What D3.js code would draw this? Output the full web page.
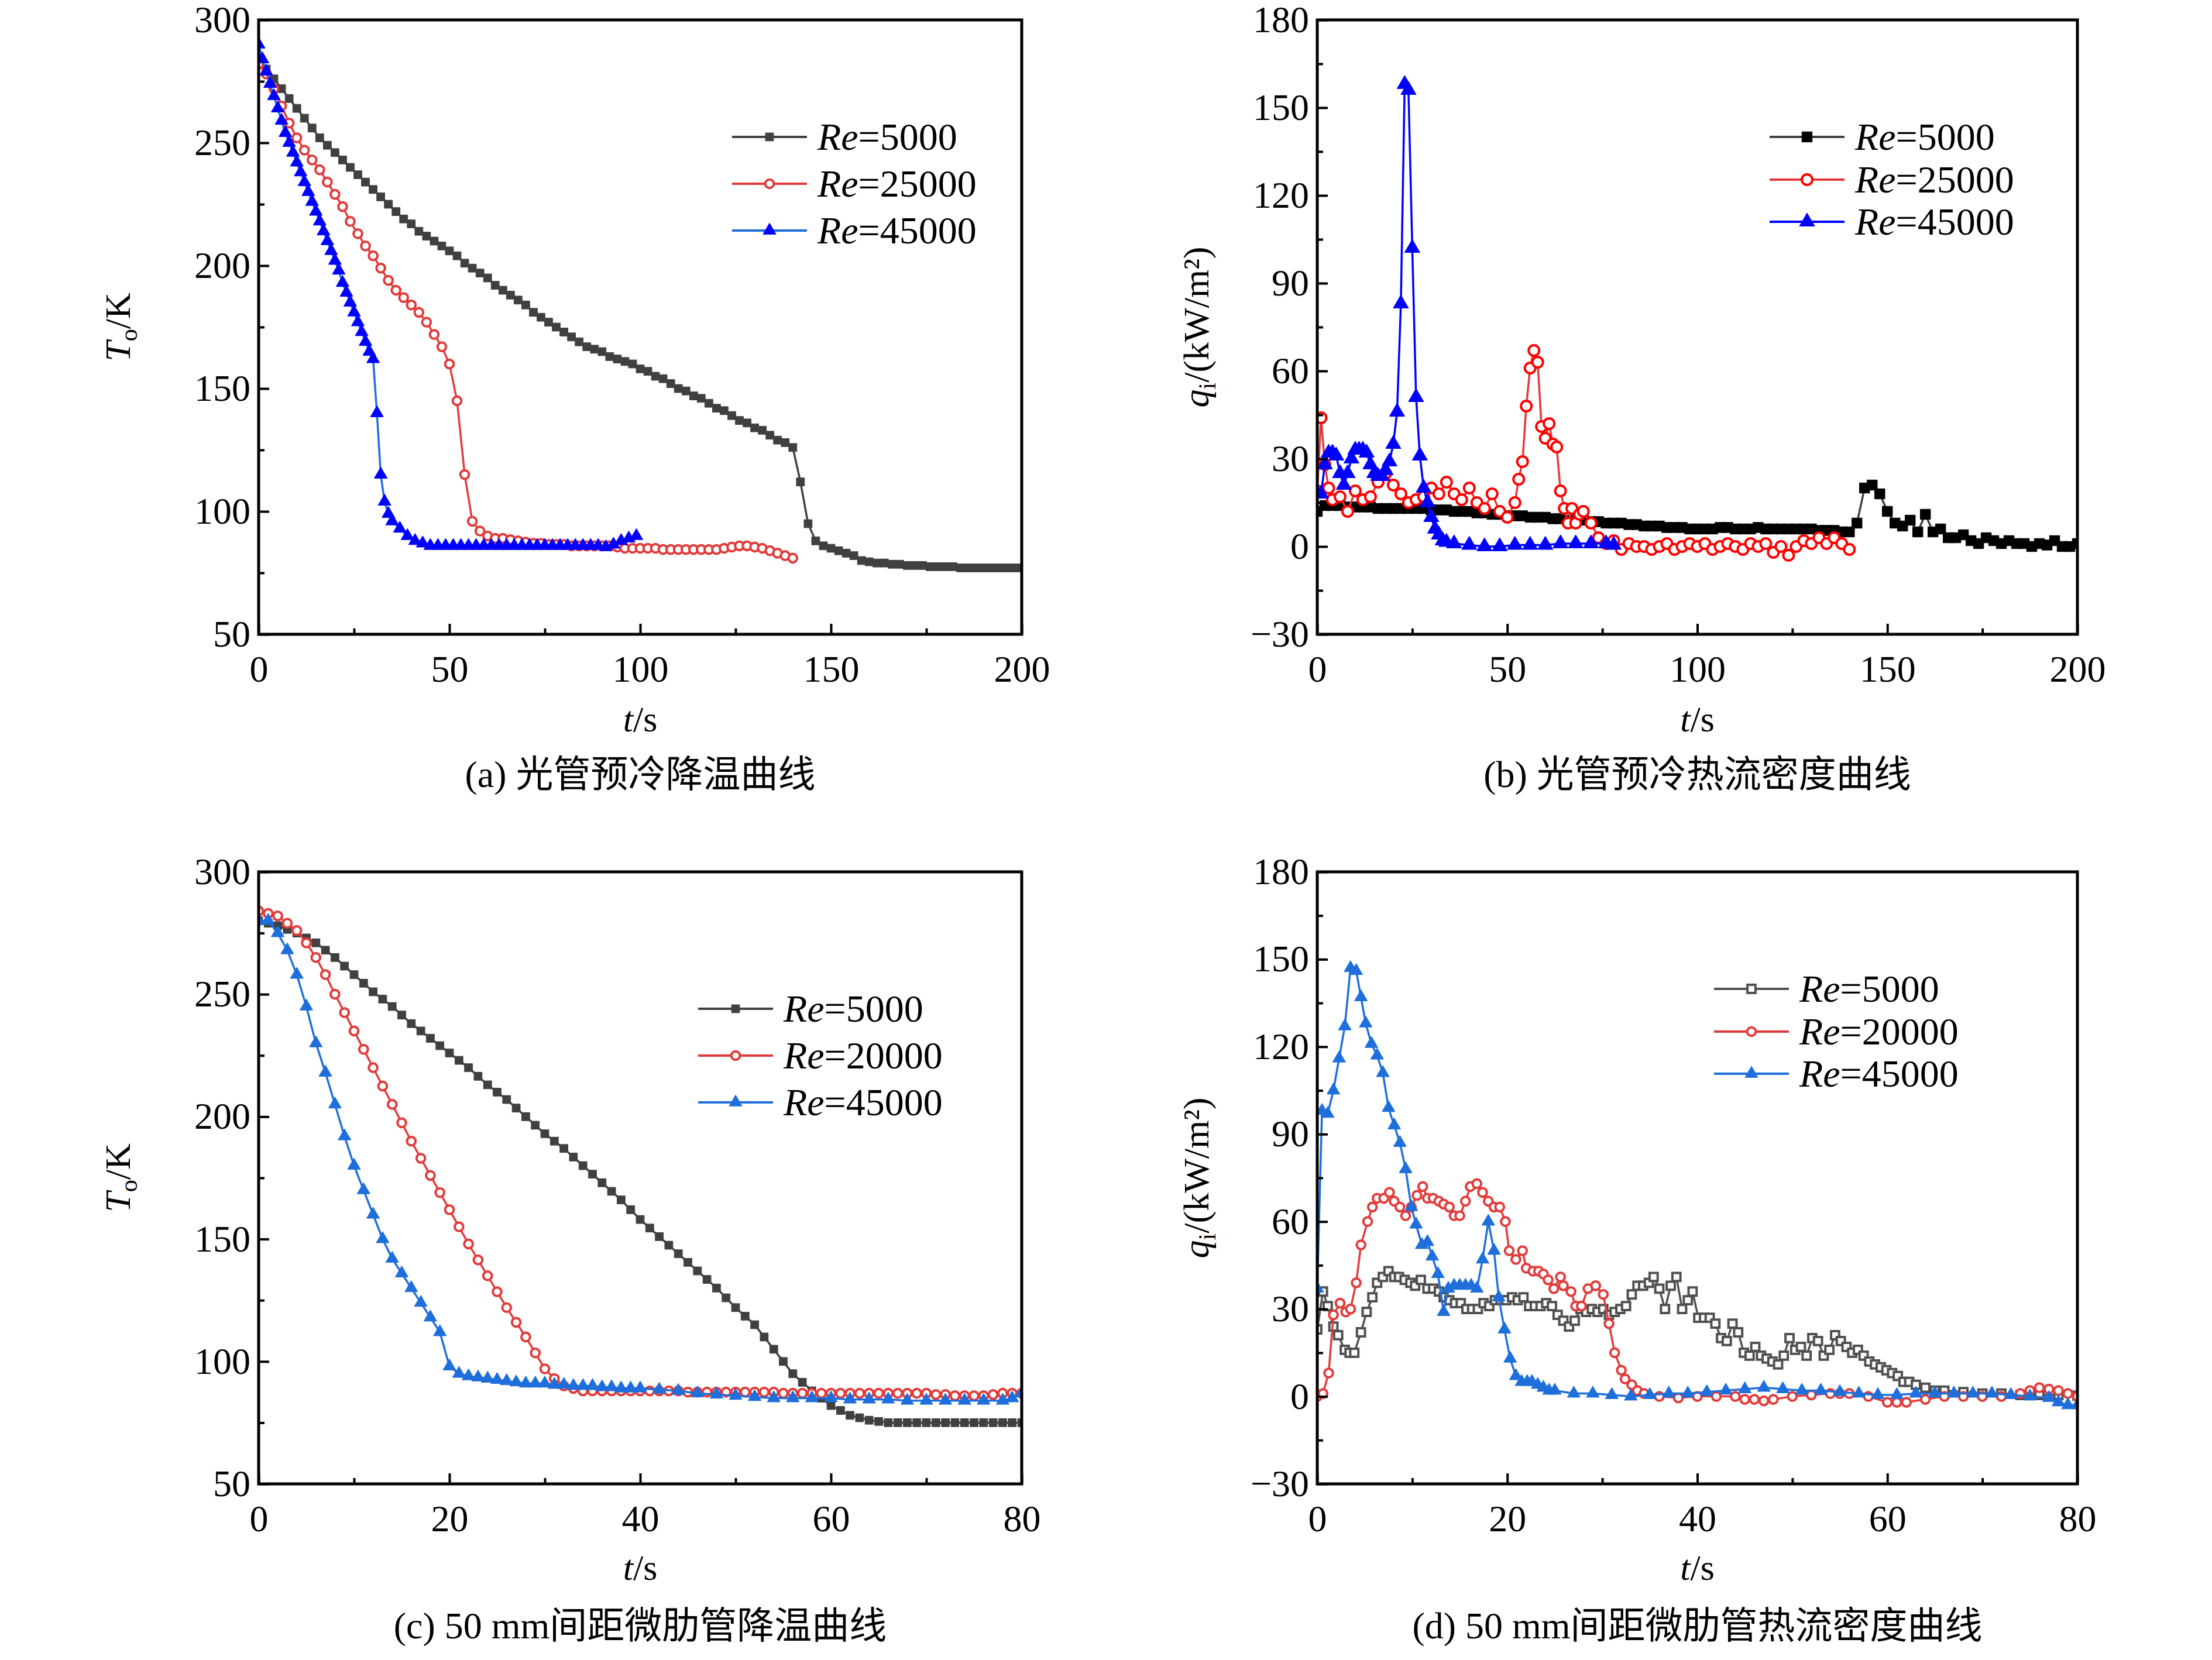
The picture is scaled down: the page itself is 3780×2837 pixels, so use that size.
<!DOCTYPE html>
<html><head><meta charset="utf-8">
<script src="https://cdn.jsdelivr.net/npm/d3@7"></script>
<style>
body{margin:0;background:#fff}
svg text{font-family:"Liberation Serif","Noto Sans CJK SC",serif}
</style></head>
<body><svg id="chart" width="3780" height="2837" font-family="Liberation Serif, Noto Sans CJK SC, serif"></svg>
<script>
// ---- data: (a) plain tube temperature, step 2 s unless noted
var aT5000 = [285,280,276,272,268,264,260,256,252,249,246,243,240,237,234,231,228,225,222,219,217,214,212,210,208,206,204,201,199,197,195,192,190,188,186,184,181,179,177,175,173,171,169,167,166,165,163,162,161,160,158,157,155,154,152,150,149,147,146,144,142,141,139,137,136,134,133,131,129,128,126,112,95,88,86,85,84,83,82,80,79.5,79,79,78.5,78.5,78,78,78,77.5,77.5,77.5,77.5,77,77,77,77,77,77,77,77,77];
var aT25000 = [282,278,272,265,258,252,247,243,239,234,229,224,218,213,208,204,199,194,190,187,184,181,177,172,167,160,145,115,96,92,90,89,89,88.5,88,87.5,87,87,86.5,86.5,86.5,86,86,86,86,86,86,85.5,85,85,85,85,85,84.5,84.5,84.5,84.5,84.5,84.5,84.5,84.5,85,85.5,86,86,85.5,85,84,83,82,81];
var aT45000_t = [0,1,2,3,4,5,6,7,8,9,10,11,12,13,14,15,16,17,18,19,20,21,22,23,24,25,26,27,28,29,30,31,32,33,34,35,37,39,41,43,45,47,49,51,53,55,57,59,61,63,65,67,69,71,73,75,77,79,81,83,85,87,89,91,93,95,97,99];
var aT45000 = [290,284,279,274,269,264,259,254,250,246,242,238,234,230,226,222,218,214,210,206,202,198,193,189,185,181,177,173,169,165,162,140,115,104,99,96,93,90,88,87,86,86,86,86,86,86,86,86,86,86,86,86,86,86,86,86,86,86,86,86,86,86,86,85.5,86.5,88,89,90];

// ---- (b) plain tube heat flux
var bQ5000 = [12,14,14,14,13.5,13.5,13.5,13.5,13,13,13,13,13,13,13,12.5,12.5,12.5,12,12,12,11.5,11.5,11,11,10.5,10.5,10.5,10,10,10,9.5,9.5,9,9,9,8.5,8.5,8,8,8,7.5,7.5,7,7,7,6.5,6.5,6.5,6,6,6,6,6.5,6.5,6,6,6,6.5,6,6,6,6,6,6,6,5.5,5.5,5.5,5,5,8,20,21,18,12,8,7,9,5,11,5,6,3,3,4,2,1,3,2,1,2,1,1,0,1,0.5,2,0,0,1];
var bQ25000_t = [0,1,2,3,4,6,8,10,12,14,16,18,20,22,24,26,28,30,32,34,36,38,40,42,44,46,48,50,52,53,54,55,56,57,58,59,60,61,62,63,64,65,66,67,68,69,70,72,74,76,78,80,82,84,86,88,90,92,94,96,98,100,102,104,106,108,110,112,114,116,118,120,122,124,126,128,130,132,134,136,138,140];
var bQ25000 = [19,44,28,20,16,17,12,19,16,17,22,25,21,18,15,16,17,20,18,22,18,16,20,15,13,18,12,10,15,23,29,48,61,67,63,41,37,42,35,34,19,13,8,13,8,11,12,8,3,1,2,-1,1,0,0,-1,0,1,-1,0,1,0,1,-1,0,1,0,-1,1,0,1,-2,0,-3,0,2,1,3,1,3,1,-1];
var bQ45000_t = [0,1,2,3,4,5,6,7,8,9,10,11,12,13,14,15,16,17,18,19,20,21,22,23,24,25,26,27,28,29,30,31,32,33,34,36,40,44,48,52,56,60,64,68,72,76,78];
var bQ45000 = [18,18,28,32,32,31,25,21,25,30,33,33,33,32,28,25,24,24,26,29,35,46,83,158,156,102,51,31,20,15,10,6,4,2,1.5,1,0.5,0,0,0.5,0.5,0.5,1,1,1,1,0.5];

// ---- (c) ribbed tube temperature, step 1 s
var cT5000 = [280,279,278,276.5,275,273,271,268,265,261.5,258,254.5,251,248,245,241.5,238,235,232,229,226,223,220,216.5,213,210,207,203.5,200,196.5,193,190,187,183.5,180,176.5,173,169.5,166,162,158,154.5,151,147.5,144,140.5,137,133.5,130,126,122,118.5,115,110,105,100,95,91.5,88,85,82,80,78,77,76,75.5,75,75,75,75,75,75,75,75,75,75,75,75,75,75,75];
var cT20000 = [284,283,282,279,276,271,265,258,250,242.5,235,227.5,220,212.5,205,197.5,190,183,176,169,162,155,148,141.5,135,128.5,122,116,110,103.5,97,93,90,89,88,88,88,88,88,88,88,88,88,88,88,87.5,87.5,87.5,87.5,87.5,87.5,87.5,87.5,87.5,87.5,87,87,87,87,87,87,87,87,87,87,87,87,87,87,87,87,86.5,86.5,86,86,86,86,86.5,87,87,87];
var cT45000_t = [0,1,2,3,4,5,6,7,8,9,10,11,12,13,14,15,16,17,18,19,20,21,22,23,24,25,26,27,28,29,30,31,32,33,34,35,36,37,38,39,40,42,44,46,48,50,52,54,56,58,60,62,64,66,68,70,72,74,76,78,79,80];
var cT45000 = [280,280,275,268,258,245,230,218,205,192,180,170,160,150,142,136,130,124,118,112,98,95,94,93.5,93,92.5,92,91.5,91,91,91,90.5,90.5,90,90,90,89.5,89.5,89,89,89,88.5,88,87,86.5,86,85.5,85,85,85,85,84.5,84.5,84.5,84,84,84,84,84,84,85,87];

// ---- (d) ribbed tube heat flux
var dQ5000_t = [0,0.6,1.1,1.7,2.2,2.9,3.4,3.9,4.6,5.2,5.8,6.3,6.9,7.5,8.1,8.6,9.2,9.8,10.3,10.9,11.6,12.2,12.8,13.3,13.9,14.5,15.1,15.7,16.3,16.9,17.5,18.1,18.7,19.3,19.9,20.5,21.1,21.7,22.3,22.9,23.5,24.1,24.7,25.3,25.9,26.5,27.1,27.7,28.3,28.9,29.5,30.1,30.7,31.3,31.9,32.5,33.1,33.7,34.3,34.9,35.4,36,36.6,37.2,37.8,38.4,39,39.5,40.1,40.7,41.3,41.9,42.5,43.1,43.7,44.3,44.9,45.5,46.1,46.7,47.3,47.9,48.5,49.1,49.7,50.3,50.9,51.5,52.1,52.7,53.3,53.9,54.5,55.1,55.7,56.3,56.9,57.5,58.1,58.7,59.3,59.9,60.5,61.1,61.7,62.3,63,64,65,66,68,70,72,74,76,78,80];
var dQ5000 = [23,36,31,24,21,16,15,15,22,29,34,39,41,43,41,41,40,39,38,40,37,37,36,34,33,32,32,30,30,30,32,31,33,33,33,34,33,34,31,31,31,32,31,28,26,24,26,30,29,30,29,30,28,29,30,31,35,38,38,39,41,37,30,38,41,30,33,36,27,27,27,25,20,19,25,22,15,14,17,14,13,12,11,14,20,16,17,14,20,19,14,16,21,19,17,15,16,14,12,11,10,9,8,7,5,5,4,3,2,2,1.5,1,1,0.5,0.5,0.5,0.3,0];
var dQ20000_t = [0,0.6,1.2,1.7,2.4,3,3.5,4.1,4.6,5.3,5.8,6.3,7,7.6,8.1,8.7,9.3,9.9,10.5,11.1,11.6,12.2,12.8,13.3,13.9,14.4,15,15.6,16.1,16.8,17.4,18,18.6,19.2,19.8,20.2,20.9,21.6,22,22.7,23.3,23.8,24.3,24.9,25.6,25.9,26.7,27.2,27.8,28.5,29.3,30.1,30.7,31.3,32,32.4,33.1,33.7,34.4,36,38,40,42,44,45,46,47,48,50,52,54,55,56,58,60,61,62,64,66,68,70,72,74,75,76,77,78,79,80];
var dQ20000 = [0,1,8,28,32,29,30,39,52,60,65,68,68,70,67,65,62,65,69,72,68,68,67,66,65,62,62,67,72,73,70,67,65,65,60,50,47,50,44,43,43,42,40,37,41,38,36,31,31,37,38,35,25,15,9,6,4,2,1,0,-0.5,0,0,0,-1,-1,-1.5,-1,0,0.5,1,1,1,0,-2,-2,-2,-1,0,0,0,0,1,2,3,2.5,2,1,0,-1];
var dQ45000_t = [0,0.5,1.1,1.7,2.3,2.9,3.5,4.1,4.6,5.1,5.7,6.3,6.9,7.5,8.1,8.7,9.3,9.9,10.4,11,11.6,12.1,12.7,13.3,13.8,14.4,15,15.6,16.2,16.8,17.4,18,18.6,19.1,19.7,20.3,20.9,21.5,22.1,22.6,23.2,23.8,24.4,25,27,29,31,33,35,37,39,41,43,45,47,49,51,53,55,57,59,61,63,65,67,69,71,73,75,77,78,79,80];
var dQ45000 = [37,98,97,105,116,127,147,146,137,128,121,117,111,99,93,87,78,65,59,52,53,48,42,29,37,38,38,38,38,37,47,60,50,34,23,13,7,5,5,5,4,3,2,2,1,1,0.5,0,0.5,1,1,1.5,2,2.5,3,2.5,2,2,1.5,1,0.5,0.5,1,1,1,1,1,0.5,0,-0.5,-2,-3,-3];

function steps(step, vals) { return vals.map(function (v, i) { return [i * step, v]; }); }
function zipTV(ts, vals) { return vals.map(function (v, i) { return [ts[i], v]; }); }

var svg = d3.select("#chart");

var panels = [
  { x0: 442, x1: 1746, y0: 34, y1: 1084, xDom: [0, 200], xTicks: [0,50,100,150,200], yDom: [50, 300], yTicks: [50,100,150,200,250,300],
    ylab: "T", sub: "o", unit: "/K", ylx: 222, caption: "(a) 光管预冷降温曲线", capY: 1345, titleY: 1250,
    legend: { x: 1251, ys: [234, 314, 394] },
    series: [
      { name: "5000", data: steps(2, aT5000), color: "#404040", shape: "square", fill: true },
      { name: "25000", data: steps(2, aT25000), color: "#e23b3b", shape: "circle", fill: false },
      { name: "45000", data: zipTV(aT45000_t, aT45000), color: "#0000ff", shape: "triangle", fill: true, line: "#1e6fdc" }
    ] },
  { x0: 2251, x1: 3550, y0: 34, y1: 1084, xDom: [0, 200], xTicks: [0,50,100,150,200], yDom: [-30, 180], yTicks: [-30,0,30,60,90,120,150,180],
    ylab: "q", sub: "i", unit: "/(kW/m²)", ylx: 2065, caption: "(b) 光管预冷热流密度曲线", capY: 1345, titleY: 1250,
    legend: { x: 3024, ys: [234, 307, 379] },
    series: [
      { name: "5000", data: steps(2, bQ5000), color: "#000000", shape: "square", fill: true, line: "#404040", big: 1.6 },
      { name: "25000", data: zipTV(bQ25000_t, bQ25000), color: "#ff0000", shape: "circle", fill: false, line: "#e23b3b", big: 1.5 },
      { name: "45000", data: zipTV(bQ45000_t, bQ45000), color: "#0000ff", shape: "triangle", fill: true, big: 1.4 }
    ] },
  { x0: 442, x1: 1746, y0: 1490, y1: 2536, xDom: [0, 80], xTicks: [0,20,40,60,80], yDom: [50, 300], yTicks: [50,100,150,200,250,300],
    ylab: "T", sub: "o", unit: "/K", ylx: 222, caption: "(c) 50 mm间距微肋管降温曲线", capY: 2800, titleY: 2700,
    legend: { x: 1193, ys: [1724, 1804, 1884] },
    series: [
      { name: "5000", data: steps(1, cT5000), color: "#404040", shape: "square", fill: true },
      { name: "20000", data: steps(1, cT20000), color: "#e23b3b", shape: "circle", fill: false },
      { name: "45000", data: zipTV(cT45000_t, cT45000), color: "#1e6fdc", shape: "triangle", fill: true }
    ] },
  { x0: 2251, x1: 3550, y0: 1490, y1: 2536, xDom: [0, 80], xTicks: [0,20,40,60,80], yDom: [-30, 180], yTicks: [-30,0,30,60,90,120,150,180],
    ylab: "q", sub: "i", unit: "/(kW/m²)", ylx: 2065, caption: "(d) 50 mm间距微肋管热流密度曲线", capY: 2800, titleY: 2700,
    legend: { x: 2929, ys: [1690, 1763, 1835] },
    series: [
      { name: "5000", data: zipTV(dQ5000_t, dQ5000), color: "#505050", shape: "square", fill: false },
      { name: "20000", data: zipTV(dQ20000_t, dQ20000), color: "#e23b3b", shape: "circle", fill: false },
      { name: "45000", data: zipTV(dQ45000_t, dQ45000), color: "#1e6fdc", shape: "triangle", fill: true }
    ] }
];

var shapes = { square: d3.symbolSquare, circle: d3.symbolCircle, triangle: d3.symbolTriangle };
var sizes = { square: 190, circle: 170, triangle: 210 };

function marker(g, s, x, y) {
  g.append("path")
    .attr("d", d3.symbol(shapes[s.shape], sizes[s.shape] * (s.big || 1))())
    .attr("transform", "translate(" + x + "," + y + ")")
    .attr("fill", s.fill ? s.color : "#fff")
    .attr("stroke", s.color)
    .attr("stroke-width", s.fill ? 1 : 4);
}

panels.forEach(function (p) {
  var x = d3.scaleLinear().domain(p.xDom).range([p.x0, p.x1]);
  var y = d3.scaleLinear().domain(p.yDom).range([p.y1, p.y0]);
  var g = svg.append("g");

  var clip = "clip" + p.x0 + "_" + p.y0;
  g.append("clipPath").attr("id", clip).append("rect")
    .attr("x", p.x0).attr("y", p.y0).attr("width", p.x1 - p.x0).attr("height", p.y1 - p.y0);

  // series
  var line = d3.line().x(function (d) { return x(d[0]); }).y(function (d) { return y(d[1]); });
  var plot = g.append("g").attr("clip-path", "url(#" + clip + ")");
  p.series.forEach(function (s) {
    plot.append("path").datum(s.data).attr("d", line)
      .attr("fill", "none").attr("stroke", s.line || s.color).attr("stroke-width", 3.5);
    s.data.forEach(function (d) { marker(plot, s, x(d[0]), y(d[1])); });
  });

  // frame
  g.append("rect").attr("x", p.x0).attr("y", p.y0).attr("width", p.x1 - p.x0).attr("height", p.y1 - p.y0)
    .attr("fill", "none").attr("stroke", "#000").attr("stroke-width", 5);

  // axes with inward ticks
  g.append("g").attr("transform", "translate(0," + p.y1 + ")")
    .call(d3.axisBottom(x).tickValues(p.xTicks).tickSize(-18).tickPadding(36).tickFormat(d3.format("d")));
  var xm = [];
  for (var i = 0; i < p.xTicks.length - 1; i++) xm.push((p.xTicks[i] + p.xTicks[i + 1]) / 2);
  g.append("g").attr("transform", "translate(0," + p.y1 + ")")
    .call(d3.axisBottom(x).tickValues(xm).tickSize(-10).tickFormat(""));
  g.append("g").attr("transform", "translate(" + p.x0 + ",0)")
    .call(d3.axisLeft(y).tickValues(p.yTicks).tickSize(-18).tickPadding(14)
      .tickFormat(function (d) { return d < 0 ? "−" + Math.abs(d) : d; }));
  var ym = [];
  for (var j = 0; j < p.yTicks.length - 1; j++) ym.push((p.yTicks[j] + p.yTicks[j + 1]) / 2);
  g.append("g").attr("transform", "translate(" + p.x0 + ",0)")
    .call(d3.axisLeft(y).tickValues(ym).tickSize(-10).tickFormat(""));
  g.selectAll(".domain").remove();
  g.selectAll(".tick line").attr("stroke", "#000").attr("stroke-width", 4);
  g.selectAll(".tick text").attr("font-size", 64).attr("fill", "#000")
    .attr("font-family", "Liberation Serif");

  // x title
  var xt = g.append("text").attr("x", (p.x0 + p.x1) / 2).attr("y", p.titleY)
    .attr("text-anchor", "middle").attr("font-size", 62);
  xt.append("tspan").attr("font-style", "italic").text("t");
  xt.append("tspan").text("/s");

  // y title
  var yt = g.append("text").attr("transform", "translate(" + p.ylx + "," + (p.y0 + p.y1) / 2 + ") rotate(-90)")
    .attr("text-anchor", "middle").attr("font-size", 62);
  yt.append("tspan").attr("font-style", "italic").text(p.ylab);
  yt.append("tspan").attr("font-size", 42).attr("dy", 12).text(p.sub);
  yt.append("tspan").attr("dy", -12).text(p.unit);

  // caption
  g.append("text").attr("x", (p.x0 + p.x1) / 2).attr("y", p.capY).attr("text-anchor", "middle")
    .attr("font-size", 64).text(p.caption);

  // legend
  p.series.forEach(function (s, k) {
    var ly = p.legend.ys[k];
    g.append("line").attr("x1", p.legend.x).attr("x2", p.legend.x + 128).attr("y1", ly).attr("y2", ly)
      .attr("stroke", s.line || s.color).attr("stroke-width", 4);
    marker(g, s, p.legend.x + 64, ly);
    var t = g.append("text").attr("x", p.legend.x + 146).attr("y", ly + 22).attr("font-size", 66);
    t.append("tspan").attr("font-style", "italic").text("Re");
    t.append("tspan").text("=" + s.name);
  });
});
</script>
</body></html>
